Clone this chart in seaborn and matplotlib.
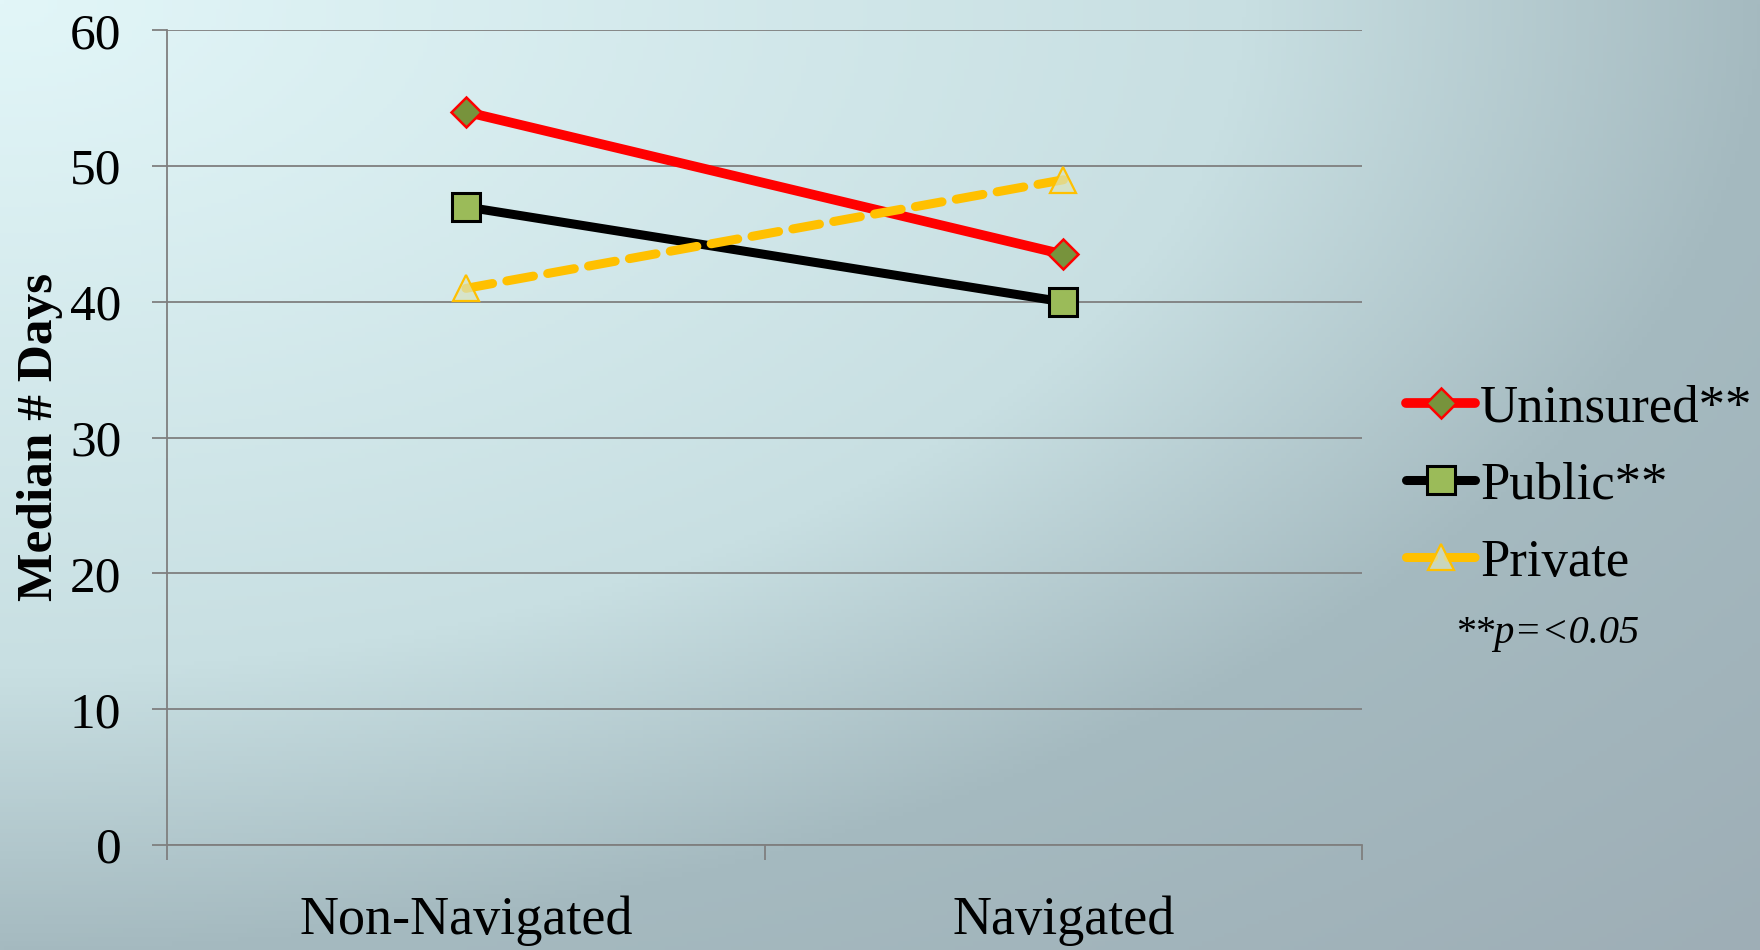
import numpy as np
import pandas as pd
import matplotlib
matplotlib.use("Agg")
import matplotlib.pyplot as plt
import seaborn as sns

# data
groups = ["Non-Navigated", "Navigated"]
uninsured = [54, 43.5]
public = [47, 40]
private = [41, 49]
series_names = ["Uninsured**", "Public**", "Private"]
y_ticks = [0, 10, 20, 30, 40, 50, 60]

sns.set_theme(style="white")
plt.rcParams["font.family"] = ["Liberation Serif", "DejaVu Serif"]
plt.rcParams["text.color"] = "black"
plt.rcParams["xtick.labelcolor"] = "black"
plt.rcParams["ytick.labelcolor"] = "black"

fig = plt.figure(figsize=(17.6, 9.5), dpi=100)

# background gradient, light in the top-left corner
bg = fig.add_axes([0, 0, 1, 1], zorder=-10)
gx, gy = np.meshgrid(np.linspace(0, 1, 400), np.linspace(0, 1, 220))
r = np.sqrt(gx ** 2 + gy ** 2)
stops = [0.0, 0.707, 1.0, 1.414]
cols = np.array([[226, 246, 248], [200, 223, 226], [165, 186, 192], [158, 174, 182]]) / 255.0
img = np.stack([np.interp(r, stops, cols[:, k]) for k in range(3)], axis=-1)
bg.imshow(img, extent=[0, 1, 0, 1], origin="upper", aspect="auto")
bg.axis("off")

ax = fig.add_axes([0.095, 0.1105, 0.679, 0.8575])
ax.patch.set_alpha(0)

df = pd.DataFrame({"group": groups, "Uninsured": uninsured,
                   "Public": public, "Private": private})

sns.lineplot(data=df, x="group", y="Uninsured", ax=ax, color="#ff0000", lw=7,
             marker="D", markersize=15, markerfacecolor="#77933c",
             markeredgecolor="#ff0000", markeredgewidth=1.8, label=series_names[0],
             zorder=4)
sns.lineplot(data=df, x="group", y="Public", ax=ax, color="black", lw=6.5,
             marker="s", markersize=20, markerfacecolor="#9bbb59",
             markeredgecolor="black", markeredgewidth=2.2, label=series_names[1],
             zorder=3)
sns.lineplot(data=df, x="group", y="Private", ax=ax, color="#ffc000", lw=6.5,
             linestyle=(0, (3.0, 1.6)), dash_capstyle="round",
             marker="^", markersize=19, markerfacecolor=(0.85, 0.89, 0.74, 0.7),
             markeredgecolor="#ffc000", markeredgewidth=1.6, label=series_names[2],
             zorder=5)

ax.set_xlim(-0.5, 1.5)
ax.set_ylim(0, 60)
ax.set_yticks(y_ticks)
ax.set_yticklabels([str(v) for v in y_ticks])
ax.yaxis.grid(True, color="#7f7f7f", lw=1.3)
ax.set_axisbelow(True)

# category boundaries as tick marks, labels in between
ax.set_xticks([-0.5, 0.5, 1.5])
ax.set_xticklabels(["", "", ""])
ax.set_xticks([0, 1], minor=True)
ax.set_xticklabels(groups, minor=True)
ax.tick_params(axis="x", which="major", direction="out", length=11, width=1.3,
               color="#7f7f7f", bottom=True)
ax.tick_params(axis="x", which="minor", length=0, pad=36, labelsize=39,
               labelcolor="black")
ax.tick_params(axis="y", direction="out", length=11, width=1.3, color="#7f7f7f",
               left=True, pad=22, labelsize=37, labelcolor="black")

for side in ["top", "right"]:
    ax.spines[side].set_visible(False)
for side in ["left", "bottom"]:
    ax.spines[side].set_color("#7f7f7f")
    ax.spines[side].set_linewidth(1.3)

ax.set_xlabel("")
ax.set_ylabel("")
fig.text(0.023, 0.54, "Median # Days", rotation=90, ha="center", va="center",
         fontsize=37, fontweight="bold", color="black")

handles, labels = ax.get_legend_handles_labels()
ax.get_legend().remove()
fig.legend(handles, labels, loc="upper left", bbox_to_anchor=(0.772, 0.645),
           frameon=False, fontsize=38, handlelength=1.3, handletextpad=0.1,
           labelspacing=0.55, labelcolor="black")
fig.text(0.879, 0.333, "**p=<0.05", ha="center", va="center", fontsize=29,
         style="italic", color="black")

fig.savefig("out.png", dpi=100)
